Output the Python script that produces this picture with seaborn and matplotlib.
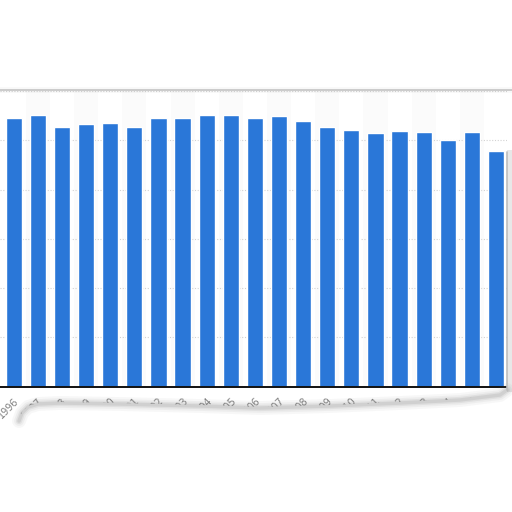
import matplotlib
matplotlib.use("Agg")
import matplotlib.pyplot as plt
import seaborn as sns
import pandas as pd

years = ["1996", "1997", "1998", "1999", "2000", "2001", "2002", "2003", "2004", "2005", "2006",
         "2007", "2008", "2009", "2010", "2011", "2012", "2013", "2014", "2015", "2016"]
values = [54.6, 55.2, 52.8, 53.4, 53.6, 52.8, 54.6, 54.6, 55.1, 55.2, 54.6,
          55.0, 54.0, 52.8, 52.1, 51.4, 51.9, 51.6, 50.0, 51.6, 47.9]

df = pd.DataFrame({"year": years, "value": values})

sns.set_style("white")
fig = plt.figure(figsize=(5.12, 5.12), dpi=100)
ax = fig.add_axes([0.0, 0.245, 0.990, 0.577])

# faint alternating column bands
for i in range(len(years)):
    if i % 2 == 1:
        ax.axvspan(i - 0.5, i + 0.5, color="#fbfbfb", zorder=0, lw=0)

sns.barplot(data=df, x="year", y="value", color="#2a77d8", saturation=1,
            width=0.675, ax=ax, zorder=3)

ax.set_ylim(0, 60)
ax.set_xlim(-0.572, 20.45)
ax.set_yticks(range(10, 61, 10))
ax.set_yticklabels([])
ax.tick_params(axis="y", length=0)
ax.tick_params(axis="x", length=0, pad=7)
ax.grid(axis="y", color="#d2d2d2", linestyle=(0, (1, 1.5)), lw=0.8, zorder=1)
ax.set_axisbelow(True)
for s in ["left", "right", "top"]:
    ax.spines[s].set_visible(False)
ax.spines["bottom"].set_color("#111111")
ax.spines["bottom"].set_linewidth(1.4)
ax.spines["bottom"].set_zorder(5)
ax.set_xlabel("")
ax.set_ylabel("")
plt.setp(ax.get_xticklabels(), rotation=45, ha="right", rotation_mode="anchor",
         fontsize=7, color="#808080")

# torn paper overlay
ov = fig.add_axes([0, 0, 1, 1], zorder=10)
ov.set_xlim(0, 512)
ov.set_ylim(512, 0)
ov.axis("off")
ov.patch.set_alpha(0)

edge_x = [19, 22, 28, 38, 60, 120, 200, 260, 330, 400, 460, 500, 507]
edge_y = [420, 412, 406, 403, 402, 403, 405, 407, 405, 402, 399, 394, 389]
poly_x = edge_x + [507, 512, 512, 19]
poly_y = edge_y + [389, 389, 512, 512]
ov.fill(poly_x, poly_y, color="white", zorder=1, lw=0)
for lw, a in [(10, 0.05), (7, 0.07), (4.5, 0.10), (2.5, 0.14)]:
    ov.plot(edge_x, [y + 1 for y in edge_y], color="#707070", lw=lw, alpha=a,
            solid_capstyle="round", zorder=2)

# right edge shadow
ov.fill([507, 512, 512, 507], [150, 150, 392, 392], color="#e8e8e8", lw=0, zorder=1)
ov.plot([507, 507], [152, 390], color="#bdbdbd", lw=1.2, zorder=2)

# top frame line
for lw, a in [(4, 0.06), (1.4, 0.40)]:
    ov.plot([0, 512], [90, 90], color="#8a8a8a", lw=lw, alpha=a, zorder=2)

fig.savefig("out.png", dpi=100)
